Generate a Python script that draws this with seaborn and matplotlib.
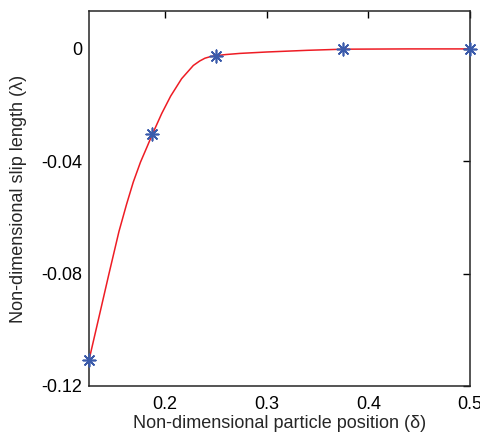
import matplotlib
matplotlib.use("Agg")
import matplotlib.pyplot as plt
import seaborn as sns
import pandas as pd

# Data points (blue asterisks)
delta_pts = [0.125, 0.1875, 0.25, 0.375, 0.5]
lambda_pts = [-0.1108, -0.0303, -0.0025, -0.0001, 0.0]

# Smooth red curve
curve_x = [0.125, 0.135, 0.1447, 0.1545, 0.1620, 0.1686, 0.1757, 0.1820, 0.1875,
           0.1966, 0.2054, 0.2162, 0.2277, 0.2340, 0.2392, 0.2450, 0.2500, 0.2600,
           0.2736, 0.3000, 0.3400, 0.3750, 0.4400, 0.5000]
curve_y = [-0.1108, -0.0952, -0.0800, -0.0650, -0.0553, -0.0474, -0.0403, -0.0350, -0.0303,
           -0.0230, -0.0168, -0.0106, -0.0059, -0.0043, -0.0033, -0.0027, -0.0024, -0.0020,
           -0.0016, -0.0011, -0.0005, -0.0001, 0.0, 0.0]

x_ticks = [0.2, 0.3, 0.4, 0.5]
y_ticks = [-0.12, -0.08, -0.04, 0.0]
y_tick_labels = ["-0.12", "-0.08", "-0.04", "0"]
x_tick_labels = ["0.2", "0.3", "0.4", "0.5"]

sns.set_style("white")
plt.rcParams["font.family"] = ["Liberation Sans", "DejaVu Sans"]
plt.rcParams["axes.unicode_minus"] = False

fig = plt.figure(figsize=(4.81, 4.36), dpi=100)
ax = fig.add_axes([0.185, 0.1147, 0.977 - 0.185, 0.9748 - 0.1147])

df_curve = pd.DataFrame({"x": curve_x, "y": curve_y})
df_pts = pd.DataFrame({"x": delta_pts, "y": lambda_pts})

sns.lineplot(data=df_curve, x="x", y="y", sort=False, color="#ee1c24", linewidth=1.1, ax=ax)
sns.scatterplot(data=df_pts, x="x", y="y", marker=(8, 2, 0), s=80, color="#3b5bab",
                linewidth=1.2, ax=ax, clip_on=False, zorder=5)

ax.set_xlim(0.125, 0.5)
ax.set_ylim(-0.12, 0.0135)
ax.set_xticks(x_ticks)
ax.set_xticklabels(x_tick_labels)
ax.set_yticks(y_ticks)
ax.set_yticklabels(y_tick_labels)

ax.tick_params(direction="in", length=5, width=1, top=True, right=True,
               labelsize=13, colors="black")
ax.tick_params(axis="x", pad=7)
ax.tick_params(axis="y", pad=5)
for sp in ax.spines.values():
    sp.set_visible(True)
    sp.set_color("#262626")
    sp.set_linewidth(1.1)

ax.set_xlabel("Non-dimensional particle position (δ)", fontsize=13, labelpad=2)
ax.set_ylabel("Non-dimensional slip length (λ)", fontsize=13, labelpad=10)

fig.savefig("out.png", dpi=100)
